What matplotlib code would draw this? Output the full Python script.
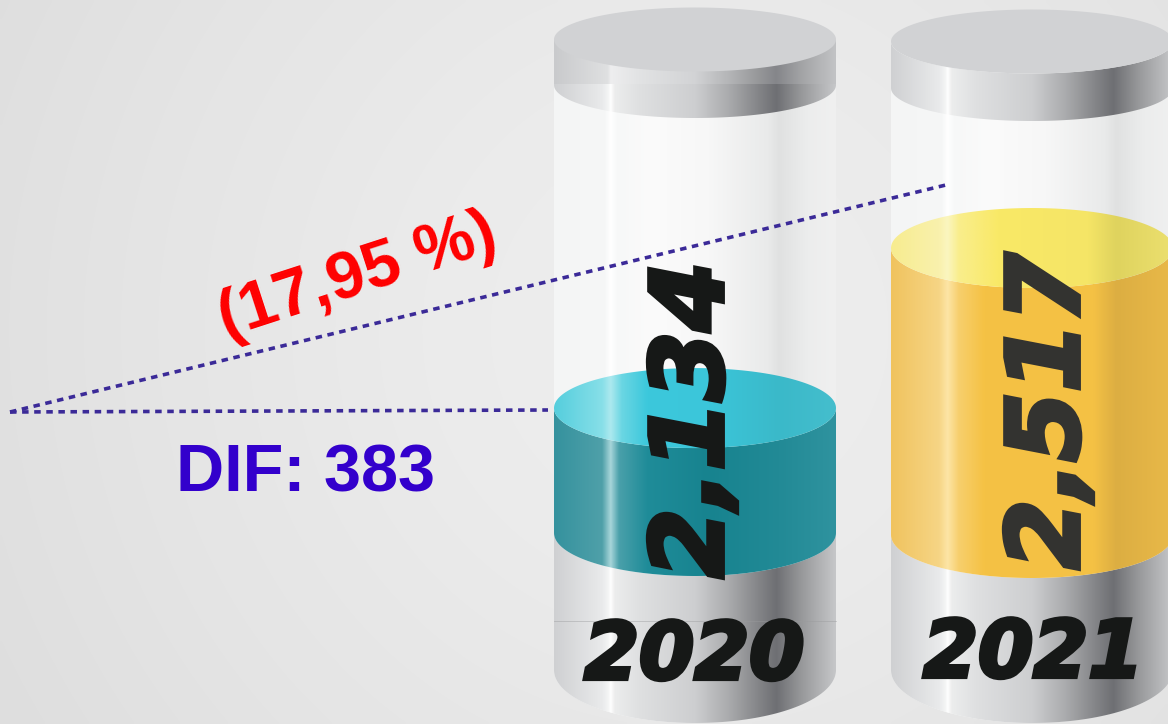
import numpy as np
import matplotlib
matplotlib.use("Agg")
import matplotlib.pyplot as plt
import matplotlib.patheffects as pe
from matplotlib.colors import LinearSegmentedColormap
from matplotlib.patches import Polygon

# ---- data
years = ["2020", "2021"]
values = [2134, 2517]
value_labels = ["2,134", "2,517"]
difference_label = "DIF: 383"
percent_label = "(17,95 %)"

W, H = 1168, 724
fig = plt.figure(figsize=(W / 100, H / 100), dpi=100)
ax = fig.add_axes([0, 0, 1, 1])
ax.set_xlim(0, W)
ax.set_ylim(H, 0)
ax.axis("off")

# value axis sharing the canvas: maps a value to the level of the fill
vax = fig.add_axes([0, 0, 1, 1], frameon=False)
vax.set_ylim(1378, 3110.5)
vax.set_xlim(0, W)
vax.axis("off")


def level_px(v):
    return H - vax.transData.transform((0, v))[1]


# background
yy, xx = np.mgrid[0:H:181j, 0:W:293j]
rr = np.hypot(xx - 690, yy - 330) / 760
bg = LinearSegmentedColormap.from_list("bg", ["#efefef", "#ebebeb", "#e5e5e5", "#dedede"])
ax.imshow(rr, extent=(0, W, H, 0), cmap=bg, vmin=0, vmax=1.05, aspect="auto", zorder=0,
          interpolation="bilinear")


def grad(stops):
    pos = [s[0] for s in stops]
    rgba = [matplotlib.colors.to_rgba(s[1]) for s in stops]
    return LinearSegmentedColormap.from_list("g", list(zip(pos, rgba)), N=512)


def arc(x0, w, cy, ry, a0, a1, n=90):
    t = np.linspace(a0, a1, n)
    return np.c_[x0 + w / 2 + w / 2 * np.cos(t), cy + ry * np.sin(t)]


def fill(poly, x0, w, stops, z, alpha=None):
    xs = np.linspace(0, 1, 800)[None, :]
    ytop, ybot = poly[:, 1].min(), poly[:, 1].max()
    im = ax.imshow(xs, extent=(x0, x0 + w, ybot, ytop), cmap=grad(stops), vmin=0, vmax=1,
                   aspect="auto", zorder=z, alpha=alpha, interpolation="bilinear")
    patch = Polygon(poly, closed=True, transform=ax.transData, fc="none", ec="none")
    ax.add_patch(patch)
    patch.set_zorder(z)
    im.set_clip_path(patch)


def side(x0, w, top, top_ry, bot, bot_ry):
    """Cylinder wall: lower arc of the top edge down to the lower arc of the bottom edge."""
    upper = arc(x0, w, top, top_ry, 0, np.pi)
    lower = arc(x0, w, bot, bot_ry, np.pi, 0)
    return np.vstack([upper, lower])


def ellipse(x0, w, cy, ry):
    return arc(x0, w, cy, ry, 0, 2 * np.pi, 180)


metal = [(0, "#cfd0d2"), (.17, "#e9eaeb"), (.192, "#f4f5f5"), (.2, "#ffffff"), (.215, "#eceded"),
         (.3, "#dfe0e1"), (.5, "#cdced0"), (.62, "#aaabad"), (.72, "#86878a"), (.79, "#6e6f73"),
         (.88, "#98999b"), (1, "#c6c7c9")]
metal_band = [(0, "#c9cacc"), (.19, "#dfe0e1"), (.2, "#eeeeef"), (.3, "#e2e3e4"), (.5, "#d2d3d5"),
              (.62, "#b4b5b7"), (.72, "#98999b"), (.79, "#85868a"), (.88, "#a3a4a6"), (1, "#c2c3c5")]
glass = [(0, "#f4f5f5"), (.18, "#f6f7f7"), (.2, "#ffffff"), (.225, "#f7f8f8"), (.35, "#fbfbfb"),
         (.55, "#f7f7f7"), (.76, "#e9eaea"), (.8, "#e0e1e1"), (.9, "#eceded"), (1, "#f0f0f0")]
teal_side = [(0, "#35929e"), (.17, "#4fa0a9"), (.2, "#a9d6da"), (.23, "#4aa0aa"), (.33, "#1f8c99"),
             (.55, "#17838f"), (.8, "#228a96"), (1, "#2f939f")]
teal_top = [(0, "#55cedd"), (.17, "#87dfe8"), (.2, "#ade9ef"), (.24, "#6ad6e3"), (.33, "#3cc8dc"),
            (.55, "#3bc6da"), (.8, "#3ab9c9"), (1, "#45becd")]
yellow_side = [(0, "#f0c35e"), (.17, "#f6d585"), (.2, "#fde5a6"), (.24, "#f7cf6d"), (.33, "#f5c244"),
               (.72, "#f4c145"), (.8, "#dcae42"), (1, "#e9b949")]
yellow_top = [(0, "#f7ec8f"), (.17, "#f9f1ad"), (.2, "#fbf6c0"), (.24, "#f9ee8c"), (.38, "#f9e967"),
              (.7, "#f5e566"), (.8, "#dfd35e"), (1, "#ece06f")]

cylinders = [
    dict(x0=554, w=282, cap=39.5, cap_side=85, fill_bot=533, side=teal_side, top=teal_top,
         vtxt=(695, 420), ytxt=(694, 657), color="#161817", vcolor="#161817"),
    dict(x0=891, w=282, cap=41.5, cap_side=88, fill_bot=535, side=yellow_side, top=yellow_top,
         vtxt=(1051, 411), ytxt=(1033, 655), color="#161817", vcolor="#333330"),
]


def heavy(colour, width):
    return [pe.Stroke(linewidth=width, foreground=colour, joinstyle="miter"), pe.Normal()]


for i, c in enumerate(cylinders):
    x0, w = c["x0"], c["w"]
    lvl = level_px(values[i])
    fill(side(x0, w, c["cap"], 0, 670, 53), x0, w, glass, 2)
    fill(side(x0, w, c["fill_bot"], 43, 670, 53), x0, w, metal, 3)
    ry = 40
    fill(side(x0, w, lvl, ry, c["fill_bot"], 43), x0, w, c["side"], 4)
    fill(ellipse(x0, w, lvl, ry), x0, w, c["top"], 5)
    fill(side(x0, w, c["cap"], 32, c["cap_side"], 33), x0, w, metal, 6)
    ax.add_patch(Polygon(ellipse(x0, w, c["cap"], 32), closed=True, fc="#d1d2d4", ec="none", zorder=7))

    ax.text(*c["vtxt"], value_labels[i], rotation=90, ha="center", va="center", color=c["vcolor"],
            fontsize=72, family="DejaVu Sans", weight="bold", style="oblique", zorder=9,
            path_effects=heavy(c["vcolor"], 3.5))
    ax.text(*c["ytxt"], years[i], ha="center", va="center", color=c["color"], fontsize=57,
            family="DejaVu Sans", weight="bold", style="oblique", zorder=9,
            path_effects=heavy(c["color"], 3))

# the overlapping band visible on the first cylinder
x0, w = cylinders[0]["x0"], cylinders[0]["w"]
band = np.array([[x0, 39.5], [x0 + w, 39.5], [x0 + w, 84], [x0, 84]])
fill(band, x0, w, metal_band, 6.5)
ax.plot([x0, x0 + w], [621, 621], color="#9a9b9d", lw=0.6, alpha=.5, zorder=8)

# annotation lines
line_c = "#3b2a98"
ax.plot([10, 548], [412, 410], color=line_c, lw=2.6, ls=(0, (1.8, 1.55)), zorder=8)
ax.plot([10, 950], [412, 184], color=line_c, lw=2.6, ls=(0, (1.8, 1.55)), zorder=8)

ax.text(358, 277, percent_label, rotation=18, rotation_mode="anchor", ha="center", va="center",
        color="#ff0000", fontsize=48, family="Liberation Sans", weight="bold", zorder=9)
ax.text(305, 474, difference_label, ha="center", va="center", color="#3300cc", fontsize=48,
        family="Liberation Sans", weight="bold", zorder=9)

fig.savefig("out.png", dpi=100)
